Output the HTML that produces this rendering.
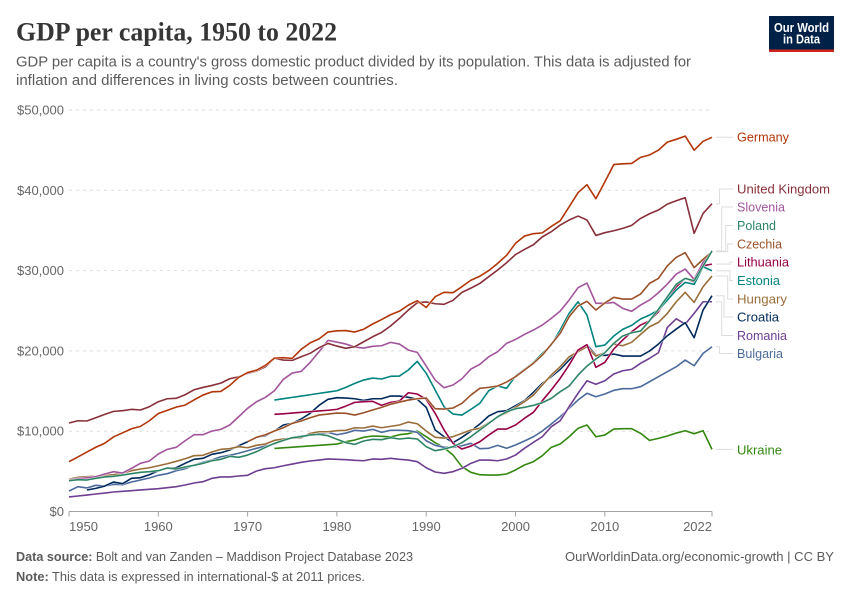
<!DOCTYPE html>
<html lang="en">
<head>
<meta charset="utf-8">
<title>GDP per capita, 1950 to 2022</title>
<style>
html,body{margin:0;padding:0;background:#fff;}
#chart{display:block;width:850px;height:600px;font-family:"Liberation Sans",sans-serif;}
</style>
</head>
<body>
<svg id="chart" xmlns="http://www.w3.org/2000/svg" width="850" height="600" viewBox="0 0 850 600">
  <text x="16" y="40.5" font-family="'Liberation Serif',serif" font-weight="700" font-size="26" fill="#363636" textLength="321" lengthAdjust="spacingAndGlyphs">GDP per capita, 1950 to 2022</text>
  <text x="16" y="66.5" font-size="14.5" fill="#5b5b5b" textLength="675" lengthAdjust="spacingAndGlyphs">GDP per capita is a country's gross domestic product divided by its population. This data is adjusted for</text>
  <text x="16" y="85" font-size="14.5" fill="#5b5b5b" textLength="382" lengthAdjust="spacingAndGlyphs">inflation and differences in living costs between countries.</text>

  <g>
    <rect x="769" y="16" width="65" height="36" fill="#002147"/>
    <rect x="769" y="49.5" width="65" height="2.5" fill="#ce261e"/>
    <text x="801.5" y="32" font-size="12.5" font-weight="700" fill="#fff" text-anchor="middle" textLength="55" lengthAdjust="spacingAndGlyphs">Our World</text>
    <text x="801.5" y="43.5" font-size="12.5" font-weight="700" fill="#fff" text-anchor="middle" textLength="37" lengthAdjust="spacingAndGlyphs">in Data</text>
  </g>

  <g id="grid"></g>
  <g id="yticks"></g>
  <g id="xaxis"></g>
  <g id="connectors"></g>
  <g id="lines"></g>
  <g id="labels"></g>

  <text x="16" y="561" font-size="13" fill="#5b5b5b" textLength="397" lengthAdjust="spacingAndGlyphs"><tspan font-weight="700">Data source:</tspan> Bolt and van Zanden – Maddison Project Database 2023</text>
  <text x="16" y="581" font-size="13" fill="#5b5b5b" textLength="349" lengthAdjust="spacingAndGlyphs"><tspan font-weight="700">Note:</tspan> This data is expressed in international-$ at 2011 prices.</text>
  <text x="834" y="561" font-size="13" fill="#5b5b5b" text-anchor="end" textLength="269" lengthAdjust="spacingAndGlyphs">OurWorldinData.org/economic-growth | CC BY</text>
</svg>
<script>
const yTickValues = [0, 10000, 20000, 30000, 40000, 50000];
const yTickLabels = ["$0", "$10,000", "$20,000", "$30,000", "$40,000", "$50,000"];
const xTickYears = [1950, 1960, 1970, 1980, 1990, 2000, 2010, 2022];

const germany = [6200,6800,7400,8000,8500,9300,9800,10300,10600,11300,12200,12600,13000,13250,13900,14500,14900,14950,15700,16700,17300,17600,18200,19100,19150,19070,20200,21000,21500,22350,22500,22530,22350,22700,23350,23900,24500,24950,25700,26250,25400,26750,27300,27250,28000,28800,29300,30000,30900,31900,33400,34300,34600,34700,35500,36200,37950,39700,40700,38950,41050,43200,43300,43350,44100,44400,45000,46000,46350,46750,45000,46100,46600];
const unitedKingdom = [11020,11300,11270,11680,12100,12470,12550,12720,12640,13050,13670,14040,14090,14540,15160,15450,15700,15990,16530,16780,17200,17500,18030,19070,18860,18820,19270,19700,20400,20930,20600,20320,20520,21140,21760,22300,23100,24050,25090,26000,26100,25870,25800,26300,27290,27820,28400,29240,30070,30980,32000,32640,33220,34200,34840,35670,36300,36790,36300,34380,34720,34960,35260,35630,36500,37080,37540,38280,38700,39080,34640,37120,38330];
const slovenia = [3900,4100,4200,4330,4670,4960,4790,5370,6000,6290,7160,7740,7990,8810,9560,9560,10020,10230,10770,11800,12850,13670,14220,15040,16460,17240,17450,18570,19900,21310,21100,20850,20480,20350,20570,20640,21060,20850,20100,19820,18110,16370,15410,15750,16530,17740,18320,19270,19900,20940,21430,22050,22600,23220,24050,24960,26330,27870,28450,25920,25920,26040,25300,24930,25710,26330,27240,28320,29570,30190,28900,31020,32470];
const poland = [3840,3960,3920,4130,4300,4380,4540,4710,4880,4960,5080,5420,5290,5540,5750,6000,6320,6500,6870,6750,7030,7450,7990,8490,8860,9190,9320,9530,9610,9440,8990,8570,8360,8780,8990,8940,9190,9030,9150,9030,8070,7570,7780,8070,8570,9320,10150,10980,11800,12430,12800,12970,13220,13550,14090,14920,15620,16990,18110,18990,19770,20940,21850,22260,22470,23750,25170,26740,28290,29030,28740,30560,32430];
const czechia = [8690,9240,9560,10020,10430,10980,11270,11680,12010,12140,12260,12230,12010,12300,12640,12970,13350,13630,13880,14040,14130,12800,12760,12890,13470,14500,15340,15460,15630,16120,16790,17620,18450,19480,20810,22190,24250,25590,26170,25090,25960,26670,26460,26460,27080,28410,29030,30600,31650,32230,30360,31400,32340];
const lithuania = [12100,12170,12260,12350,12430,12520,12610,12720,13130,13590,13670,13720,13220,13590,13760,14790,14630,13970,12230,10150,8490,7780,8150,8690,9520,10270,10270,10770,11600,12350,13800,15130,16580,18240,20110,20770,17950,18570,20230,21350,22390,23220,23750,24880,26540,27990,29030,28610,30600,30810];
const estonia = [13880,14050,14210,14380,14540,14710,14870,15040,15460,15960,16370,16620,16500,16830,16870,17620,18700,17210,15130,13050,12140,12010,12720,13470,15040,15630,15340,16870,17700,18530,19690,20730,22600,24670,26120,24460,20520,20730,21850,22680,23180,23970,24460,25090,26330,27580,28530,28290,30480,29980];
const hungary = [4010,4260,4330,4380,4460,4580,4790,5080,5290,5450,5700,5950,6250,6570,6950,7000,7410,7740,7820,8070,7940,8240,8400,8860,9030,9150,9190,9730,9930,9930,10060,10110,10430,10400,10640,10430,10600,10770,11140,10930,10020,9240,9150,9320,9730,10150,10360,11060,11800,12300,12970,13670,14500,15750,16990,18030,19270,19900,20520,19360,19770,20850,20640,21070,22060,23010,23550,24670,26120,27290,26040,27990,29320];
const croatia = [2680,2880,3170,3670,3460,4130,4210,4580,5080,5370,5450,6000,6500,6620,7120,7320,7660,8190,8690,9240,9440,10020,10770,10980,11520,12230,13220,13970,14170,14130,14040,13840,14040,14040,14380,14380,14220,13970,12970,10150,9320,8570,9240,10020,10890,11890,12430,12550,13170,13800,14840,15960,16790,17700,18860,19900,20730,19480,19440,19610,19360,19360,19360,19980,20850,21890,22720,23510,21640,25090,26870];
const romania = [1810,1930,2050,2180,2300,2430,2510,2590,2680,2760,2840,2960,3090,3300,3550,3710,4130,4300,4300,4420,4510,5040,5330,5450,5700,5910,6130,6290,6410,6540,6500,6450,6370,6320,6540,6500,6620,6500,6410,6200,5450,4920,4760,4960,5370,6000,6410,6410,6320,6540,7030,7870,8610,9310,10560,11300,13050,14720,16280,15840,16280,17120,17530,17700,18450,19070,19770,22930,24000,23340,24670,26120,26120];
const bulgaria = [2550,3090,2930,3260,3170,3380,3340,3670,3920,4170,4510,4710,5080,5330,5790,6130,6410,6820,7000,7250,7570,7870,8150,8400,8810,9190,9400,9560,9730,9860,9560,9770,10110,10020,10230,9860,10110,10110,10060,9860,8810,8240,7990,7990,8190,8490,7820,7870,8240,7870,8280,8780,9310,10020,10890,11800,12850,13880,14720,14290,14630,15090,15290,15290,15540,16160,16790,17410,18030,18860,18150,19690,20520];
const ukraine = [7850,7930,8010,8090,8170,8240,8320,8400,8690,8900,9240,9400,9360,9280,9560,9690,10020,9320,8570,7940,7030,5580,4880,4580,4540,4540,4670,5170,5790,6200,6950,7990,8400,9310,10360,10770,9310,9520,10270,10310,10310,9740,8860,9110,9400,9770,10060,9690,10060,7740];

const series = [
  {name:"Ukraine", slug:"ukraine", values:ukraine, start:1973, color:"#338711", labelY:450, elbowX:null},
  {name:"Bulgaria", slug:"bulgaria", values:bulgaria, start:1950, color:"#4c6a9c", labelY:353.5, elbowX:719.5},
  {name:"Romania", slug:"romania", values:romania, start:1950, color:"#6d3e91", labelY:335.5, elbowX:721.7},
  {name:"Croatia", slug:"croatia", values:croatia, start:1952, color:"#00295b", labelY:317, elbowX:724},
  {name:"Hungary", slug:"hungary", values:hungary, start:1950, color:"#996d39", labelY:299, elbowX:727.7},
  {name:"Lithuania", slug:"lithuania", values:lithuania, start:1973, color:"#970046", labelY:262, elbowX:730},
  {name:"Estonia", slug:"estonia", values:estonia, start:1973, color:"#00847e", labelY:280.5, elbowX:730},
  {name:"Slovenia", slug:"slovenia", values:slovenia, start:1950, color:"#a2559c", labelY:207, elbowX:721.7},
  {name:"Czechia", slug:"czechia", values:czechia, start:1970, color:"#9a5129", labelY:244, elbowX:727.7},
  {name:"Poland", slug:"poland", values:poland, start:1950, color:"#2c8465", labelY:225.5, elbowX:725.7},
  {name:"United Kingdom", slug:"united-kingdom", values:unitedKingdom, start:1950, color:"#883039", labelY:189, elbowX:719.5},
  {name:"Germany", slug:"germany", values:germany, start:1950, color:"#b13507", labelY:137, elbowX:null}
];
const labelWidths = {"Ukraine":45,"Bulgaria":46,"Romania":50,"Croatia":42,"Hungary":50,"Lithuania":52,"Estonia":43,"Slovenia":48,"Czechia":45,"Poland":39,"United Kingdom":93,"Germany":52};

const NS = "http://www.w3.org/2000/svg";
const x = function (year) { return 69 + (year - 1950) * (712 - 69) / 72; };
const y = function (value) { return 511.5 - value * (511.5 - 110) / 50000; };

function make(tag, attrs, parent, text) {
  const el = document.createElementNS(NS, tag);
  for (const k in attrs) el.setAttribute(k, attrs[k]);
  if (text !== undefined) el.textContent = text;
  parent.appendChild(el);
  return el;
}

const gridG = document.getElementById("grid");
const yG = document.getElementById("yticks");
yTickValues.forEach(function (v, i) {
  if (v !== 0) {
    const g = make("line", {x1:69, x2:712, y1:y(v), y2:y(v), stroke:"#dddddd", "stroke-width":1, "stroke-dasharray":"3,4"}, gridG);
    
    
  }
  const t = make("text", {x:64, y:y(v) + 4.5, "text-anchor":"end", "font-size":13, fill:"#666666"}, yG, yTickLabels[i]);
  
  
});

const xG = document.getElementById("xaxis");
const axisLine = make("line", {x1:69, x2:712, y1:511.5, y2:511.5, stroke:"#a1a1a1", "stroke-width":1}, xG);


xTickYears.forEach(function (yr, i) {
  const tick = make("line", {x1:x(yr), x2:x(yr), y1:511.5, y2:516.5, stroke:"#a1a1a1", "stroke-width":1}, xG);
  
  
  const anchor = i === 0 ? "start" : (i === xTickYears.length - 1 ? "end" : "middle");
  const t = make("text", {x:x(yr), y:531, "text-anchor":anchor, "font-size":13, fill:"#666666"}, xG, String(yr));
  
  
});

const connG = document.getElementById("connectors");
const lineG = document.getElementById("lines");
const labelG = document.getElementById("labels");
series.forEach(function (s) {
  const pts = s.values.map(function (v, i) { return x(s.start + i).toFixed(2) + "," + y(v).toFixed(2); }).join(" ");
  const halo = make("polyline", {points:pts, fill:"none", stroke:"#ffffff", "stroke-width":2.4, "stroke-linejoin":"round"}, lineG);
  
  
  const line = make("polyline", {points:pts, fill:"none", stroke:s.color, "stroke-width":1.6, "stroke-linejoin":"round"}, lineG);
  
  

  const endY = y(s.values[s.values.length - 1]);
  const d = s.elbowX === null
    ? "M716," + endY + " H733"
    : "M716," + endY + " H" + s.elbowX + " V" + s.labelY + " H733";
  const c = make("path", {d:d, fill:"none", stroke:"#dddddd", "stroke-width":1}, connG);
  
  

  const lab = make("text", {x:737, y:s.labelY + 4.5, "font-size":13, fill:s.color, textLength:labelWidths[s.name], lengthAdjust:"spacingAndGlyphs"}, labelG, s.name);
  
  
});
</script>
</body>
</html>
